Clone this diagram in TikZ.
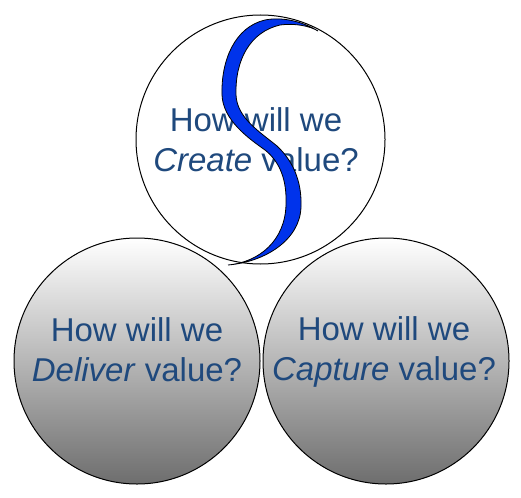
\documentclass[tikz,border=0pt]{standalone}
\usepackage{fontspec}
\setmainfont{Liberation Sans}
\usepackage{xcolor}
\usepackage{tikz}
\usetikzlibrary{positioning}
\definecolor{textblue}{RGB}{31,73,125}
\definecolor{swirlblue}{RGB}{0,51,235}
\tikzset{
    valuecircle/.style={circle, draw, line width=1pt, minimum size=246pt, inner sep=0pt},
    question/.style={text=textblue, align=center, font=\fontsize{33}{40}\selectfont},
    swirl/.style={fill=swirlblue, draw=black, line width=0.8pt}
}

\begin{document}
\begin{tikzpicture}[x=1pt, y=-1pt]
    \useasboundingbox (0,0) rectangle (521,497);
    % Create circle
    \node[valuecircle, fill=white, minimum size=249pt] (create) at (260.5,139.5) {};
    
    % Deliver and Capture circles
    \node[valuecircle, top color=white, bottom color=black!57] (deliver) at (137,361) {};
    \node[valuecircle, top color=white, bottom color=black!57] (capture) at (386,361) {};
    
    % Questions
    \node[question] (createq) at (256,140) {How will we\\ \textit{Create} value?};
    \node[question] (deliverq) at (137,350) {How will we\\ \textit{Deliver} value?};
    \node[question] (captureq) at (384,351.5) {How will we\\ \textit{Capture} value?};
    
    % S swirl
    \filldraw[swirl] (318,31) .. controls (300,20) and (280,17) .. (265,20)
        .. controls (235,27) and (221,60) .. (222,95)
        .. controls (223,120) and (248,138) .. (265,150)
        .. controls (280,162) and (287,180) .. (286,205)
        .. controls (285,240) and (260,262) .. (228,265)
        .. controls (265,262) and (300,240) .. (301,207)
        .. controls (302,180) and (292,160) .. (277,146)
        .. controls (260,132) and (237,118) .. (236,95)
        .. controls (235,60) and (250,32) .. (280,25)
        .. controls (295,23) and (310,26) .. (318,31) -- cycle;
\end{tikzpicture}
\end{document}
